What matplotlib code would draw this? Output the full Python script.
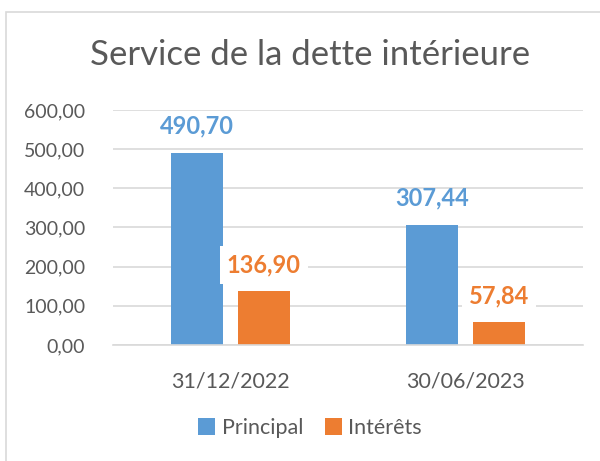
import matplotlib
matplotlib.use("Agg")
import matplotlib.pyplot as plt
from matplotlib.patches import Rectangle
import numpy as np

categories = ["31/12/2022", "30/06/2023"]
principal = [490.70, 307.44]
interets = [136.90, 57.84]
series_names = ["Principal", "Intérêts"]
yticks = [0, 100, 200, 300, 400, 500, 600]

blue = "#5B9BD5"
orange = "#ED7D31"
txt = "#595959"
grid = "#D9D9D9"

plt.rcParams['font.family'] = ['Lato', 'DejaVu Sans']

fig = plt.figure(figsize=(6.0, 4.61), dpi=100)
ax = fig.add_axes([113/600, 1-345/461, 470/600, 235/461])

x = np.arange(len(categories))
w = 0.22
off = 0.142
b1 = ax.bar(x - off, principal, w, color=blue, label=series_names[0], zorder=2)
b2 = ax.bar(x + off, interets, w, color=orange, label=series_names[1], zorder=2)

def fmt(v):
    return f"{v:.2f}".replace(".", ",")

for xi, v in zip(x - off, principal):
    ax.annotate(fmt(v), (xi, v), xytext=(0, 19), textcoords="offset points",
                ha="center", va="center", color=blue, fontsize=17, fontweight="bold",
                zorder=3)
for xi, v in zip(x + off, interets):
    ax.annotate(fmt(v), (xi, v), xytext=(0, 19), textcoords="offset points",
                ha="center", va="center", color=orange, fontsize=17, fontweight="bold",
                bbox=dict(boxstyle="square,pad=0.3", fc="white", ec="none"), zorder=3)

ax.set_xlim(-0.5, 1.5)
ax.set_ylim(0, 600)
ax.set_yticks(yticks)
ax.set_yticklabels([fmt(v) for v in yticks])
ax.set_xticks(x)
ax.set_xticklabels(categories)
ax.tick_params(axis="both", length=0, colors=txt)
ax.tick_params(axis="y", pad=20, labelsize=14)
ax.tick_params(axis="x", pad=19, labelsize=15.5)
ax.yaxis.grid(True, color=grid, linewidth=1.2, zorder=0)
ax.set_axisbelow(True)
for s in ["top", "right", "left"]:
    ax.spines[s].set_visible(False)
ax.spines["bottom"].set_color(grid)
ax.spines["bottom"].set_linewidth(1.2)

fig.text(310/600, 1-55/461, "Service de la dette intérieure", ha="center", va="center",
         fontsize=25, color=txt)

leg = fig.legend(handles=[b1, b2], labels=series_names, loc="center",
                 bbox_to_anchor=(310/600, 1-428/461), ncol=2, frameon=False,
                 fontsize=15.5, handlelength=0.8, handleheight=0.8, handletextpad=0.3,
                 columnspacing=1.0)
for t in leg.get_texts():
    t.set_color(txt)

fig.patches.append(Rectangle((6/600, -0.05), 1.1, (461-12)/461 + 0.05, transform=fig.transFigure,
                             fill=False, edgecolor="#D9D9D9", linewidth=1.2))

fig.savefig("out.png", dpi=100)
